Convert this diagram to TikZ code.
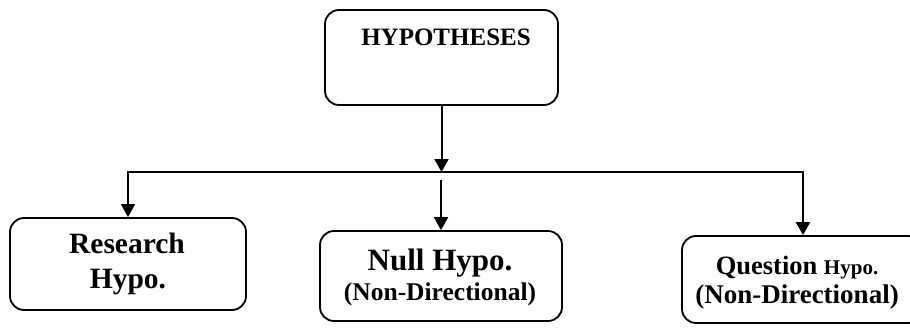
\documentclass[tikz,border=0pt]{standalone}
\usepackage{fontspec}
\setmainfont{Liberation Serif}
\usetikzlibrary{arrows.meta}
\begin{document}
\begin{tikzpicture}[x=1pt,y=-1pt,
  box/.style={draw=black,line width=1.8pt,rounded corners=14pt,inner sep=0pt},
  conn/.style={line width=2pt},
  arr/.style={line width=2pt,-{Triangle[length=13pt,width=14pt]}},
  lbl/.style={anchor=base,inner sep=0pt,font=\bfseries}]
\useasboundingbox (0,0) rectangle (910,327);
\clip (0,0) rectangle (910,327);
% boxes
\node[box,minimum width=233pt,minimum height=95pt] (top) at (441.5,57.5) {};
\node[box,minimum width=236pt,minimum height=92pt] (left) at (128,264) {};
\node[box,minimum width=242pt,minimum height=90pt] (mid) at (441,276) {};
\node[box,minimum width=240pt,minimum height=87pt] (right) at (802,279.5) {};
% labels
\node[lbl,font=\bfseries\fontsize{25}{30}\selectfont] (t1) at (446,45) {HYPOTHESES};
\node[lbl,font=\bfseries\fontsize{29.5}{34}\selectfont] (l1) at (127,253) {Research};
\node[lbl,font=\bfseries\fontsize{29.5}{34}\selectfont] (l2) at (128,288) {Hypo.};
\node[lbl,font=\bfseries\fontsize{31}{36}\selectfont] (m1) at (440,270) {Null Hypo.};
\node[lbl,font=\bfseries\fontsize{25.5}{30}\selectfont] (m2) at (440,300) {(Non-Directional)};
\node[lbl,font=\bfseries\fontsize{26.5}{30}\selectfont] (r1) at (797,274) {Question {\fontsize{21}{24}\selectfont Hypo.}};
\node[lbl,font=\bfseries\fontsize{27}{30}\selectfont] (r2) at (797,303) {(Non-Directional)};
% connectors
\coordinate (j) at (441.5,172);
\coordinate (hl) at (128,172);
\coordinate (hr) at (803,172);
\coordinate (ms) at (441,180);
\draw[arr] (top.south) -- (j);
\draw[conn,line cap=rect] (hl) -- (hr);
\draw[arr] (hl) -- (hl |- left.north);
\draw[arr] (ms) -- (ms |- mid.north);
\draw[arr] (hr) -- (hr |- right.north);
\end{tikzpicture}
\end{document}
